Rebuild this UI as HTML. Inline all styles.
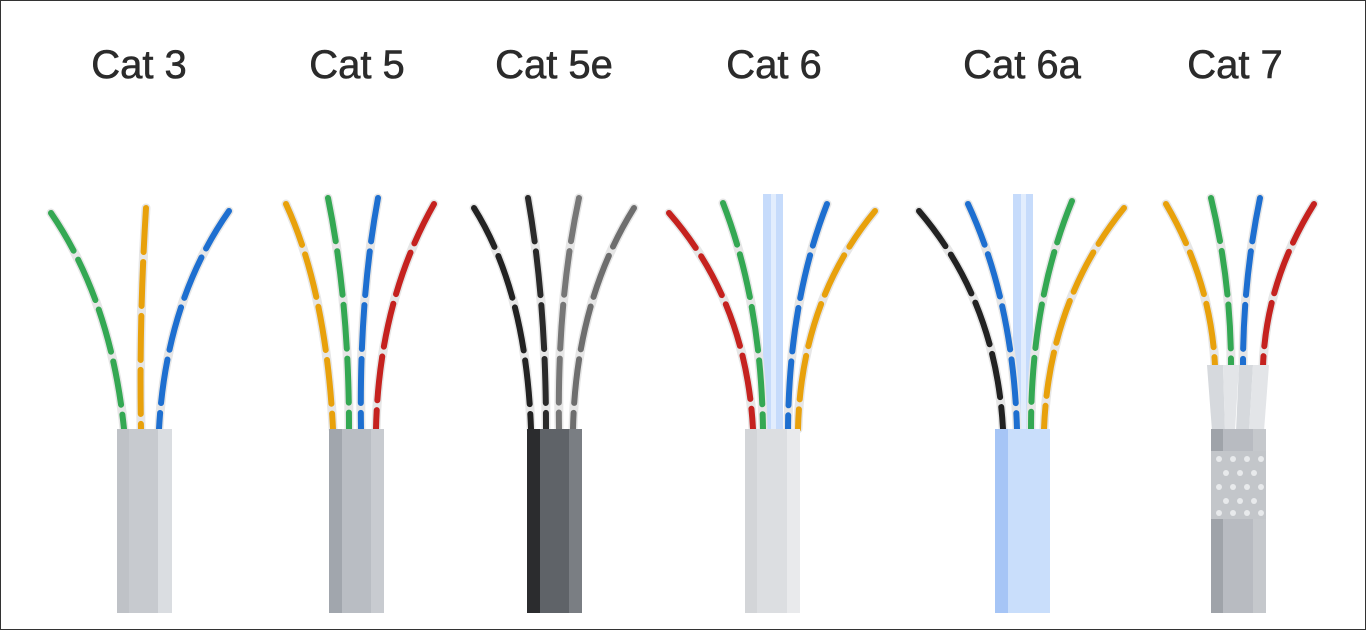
<!DOCTYPE html>
<html><head><meta charset="utf-8"><style>
html,body{margin:0;padding:0;background:#fff}
.w{position:relative;width:1364px;height:628px;border:1px solid #333;overflow:hidden;background:#fff}
svg{position:absolute;left:0;top:0}
text{font-family:"Liberation Sans",sans-serif;font-size:40px;fill:#2b2b2b;text-anchor:middle;stroke:#2b2b2b;stroke-width:0.6}
.b{fill:none;stroke:#e6e6e6;stroke-width:9;stroke-linecap:round}
.c{fill:none;stroke-width:6;stroke-linecap:round;stroke-dasharray:44 10}
</style></head><body><div class="w">
<svg width="1366" height="630" viewBox="0 0 1366 630">
<text x="138" y="77">Cat 3</text>
<text x="356" y="77">Cat 5</text>
<text x="553" y="77">Cat 5e</text>
<text x="773" y="77">Cat 6</text>
<text x="1021" y="77">Cat 6a</text>
<text x="1234" y="77">Cat 7</text>

<rect x="762" y="193" width="20" height="240" fill="#c6dbfb"/><rect x="770" y="193" width="5" height="240" fill="#e2edfd"/>
<rect x="1012" y="193" width="20" height="240" fill="#c6dbfb"/><rect x="1020" y="193" width="5" height="240" fill="#e2edfd"/>

<g>
<path class="b" d="M50,212 Q110,300 123,428"/><path class="c" stroke="#34a853" d="M50,212 Q110,300 123,428"/>
<path class="b" d="M145,207 Q138,320 140,428"/><path class="c" stroke="#e8a10c" d="M145,207 Q138,320 140,428"/>
<path class="b" d="M228,210 Q165,300 158,428"/><path class="c" stroke="#1e6fd0" d="M228,210 Q165,300 158,428"/>
<path class="b" d="M285,203 Q325,290 332,428"/><path class="c" stroke="#e8a10c" d="M285,203 Q325,290 332,428"/>
<path class="b" d="M327,197 Q348,300 348,428"/><path class="c" stroke="#34a853" d="M327,197 Q348,300 348,428"/>
<path class="b" d="M377,197 Q358,300 360,428"/><path class="c" stroke="#1e6fd0" d="M377,197 Q358,300 360,428"/>
<path class="b" d="M433,203 Q378,300 375,428"/><path class="c" stroke="#c5221f" d="M433,203 Q378,300 375,428"/>
<path class="b" d="M473,207 Q525,290 530,428"/><path class="c" stroke="#222" d="M473,207 Q525,290 530,428"/>
<path class="b" d="M527,197 Q545,300 545,428"/><path class="c" stroke="#2a2a2a" d="M527,197 Q545,300 545,428"/>
<path class="b" d="M578,197 Q556,300 558,428"/><path class="c" stroke="#777" d="M578,197 Q556,300 558,428"/>
<path class="b" d="M633,207 Q575,300 572,428"/><path class="c" stroke="#6e6e6e" d="M633,207 Q575,300 572,428"/>
<path class="b" d="M668,212 Q745,300 752,428"/><path class="c" stroke="#c5221f" d="M668,212 Q745,300 752,428"/>
<path class="b" d="M722,202 Q760,300 762,428"/><path class="c" stroke="#34a853" d="M722,202 Q760,300 762,428"/>
<path class="b" d="M826,203 Q788,300 787,428"/><path class="c" stroke="#1e6fd0" d="M826,203 Q788,300 787,428"/>
<path class="b" d="M874,210 Q800,300 797,428"/><path class="c" stroke="#e8a10c" d="M874,210 Q800,300 797,428"/>
<path class="b" d="M918,210 Q995,300 1002,428"/><path class="c" stroke="#222" d="M918,210 Q995,300 1002,428"/>
<path class="b" d="M967,203 Q1012,300 1016,428"/><path class="c" stroke="#1e6fd0" d="M967,203 Q1012,300 1016,428"/>
<path class="b" d="M1071,200 Q1030,300 1030,428"/><path class="c" stroke="#34a853" d="M1071,200 Q1030,300 1030,428"/>
<path class="b" d="M1123,207 Q1048,300 1043,428"/><path class="c" stroke="#e8a10c" d="M1123,207 Q1048,300 1043,428"/>
<path class="b" d="M1165,203 Q1210,280 1214,365"/><path class="c" stroke="#e8a10c" d="M1165,203 Q1210,280 1214,365"/>
<path class="b" d="M1210,197 Q1230,280 1230,365"/><path class="c" stroke="#34a853" d="M1210,197 Q1230,280 1230,365"/>
<path class="b" d="M1259,197 Q1242,280 1242,365"/><path class="c" stroke="#1e6fd0" d="M1259,197 Q1242,280 1242,365"/>
<path class="b" d="M1313,203 Q1265,280 1262,365"/><path class="c" stroke="#c5221f" d="M1313,203 Q1265,280 1262,365"/>
</g>

<path d="M1206,364 L1222,364 L1224,430 L1211,430 Z" fill="#d6d9dd"/>
<path d="M1222,364 L1238,364 L1234,430 L1224,430 Z" fill="#e3e5e8"/>
<path d="M1238,364 L1252,364 L1248,430 L1235,430 Z" fill="#d6d9dd"/>
<path d="M1252,364 L1268,364 L1263,430 L1248,430 Z" fill="#e3e5e8"/>

<rect x="116" y="428" width="55" height="184" fill="#c7cacf"/><rect x="116" y="428" width="12" height="184" fill="#bfc2c7"/><rect x="157" y="428" width="14" height="184" fill="#dadde1"/>
<rect x="328" y="428" width="55" height="184" fill="#b9bdc3"/><rect x="328" y="428" width="13" height="184" fill="#a1a6ad"/><rect x="370" y="428" width="13" height="184" fill="#c8cbd0"/>
<rect x="526" y="428" width="55" height="184" fill="#5f6368"/><rect x="526" y="428" width="13" height="184" fill="#2b2c2e"/><rect x="568" y="428" width="13" height="184" fill="#7a7e83"/>
<rect x="744" y="428" width="55" height="184" fill="#dcdee1"/><rect x="744" y="428" width="12" height="184" fill="#d3d5d8"/><rect x="786" y="428" width="13" height="184" fill="#e9eaec"/>
<rect x="994" y="428" width="55" height="184" fill="#c9defb"/><rect x="994" y="428" width="13" height="184" fill="#a6c5f6"/>
<rect x="1210" y="428" width="55" height="184" fill="#b8bbc1"/><rect x="1210" y="428" width="12" height="184" fill="#9fa3a9"/><rect x="1252" y="428" width="13" height="184" fill="#c5c8cc"/>
<rect x="1210" y="450" width="55" height="68" fill="#c3c6ca"/>
<g fill="#e8eaec">
<circle cx="1218" cy="458" r="3"/><circle cx="1232" cy="458" r="3"/><circle cx="1246" cy="458" r="3"/><circle cx="1260" cy="458" r="3"/>
<circle cx="1225" cy="472" r="3"/><circle cx="1239" cy="472" r="3"/><circle cx="1253" cy="472" r="3"/>
<circle cx="1218" cy="486" r="3"/><circle cx="1232" cy="486" r="3"/><circle cx="1246" cy="486" r="3"/><circle cx="1260" cy="486" r="3"/>
<circle cx="1225" cy="500" r="3"/><circle cx="1239" cy="500" r="3"/><circle cx="1253" cy="500" r="3"/>
<circle cx="1218" cy="512" r="3"/><circle cx="1232" cy="512" r="3"/><circle cx="1246" cy="512" r="3"/><circle cx="1260" cy="512" r="3"/>
</g>
</svg></div></body></html>
